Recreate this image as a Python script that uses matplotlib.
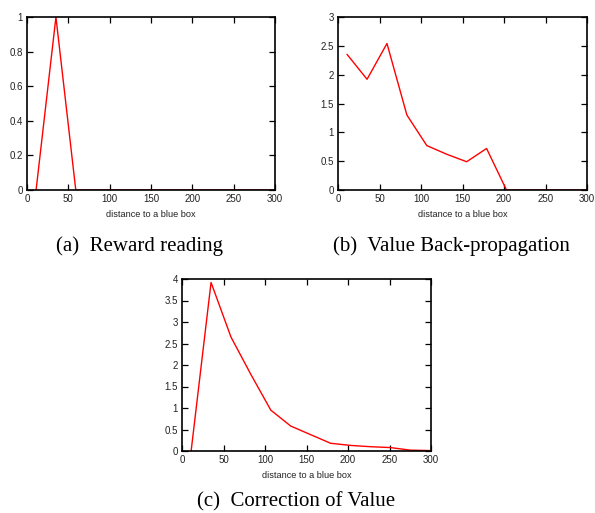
import matplotlib

matplotlib.use("Agg")
import matplotlib.pyplot as plt

# distance samples (shared by the three panels)
distance = [11, 35, 59, 83, 107, 131, 155, 179, 203, 227, 251, 275, 299]

reward = [0, 1.0, 0, 0, 0, 0, 0, 0, 0, 0, 0, 0, 0]
value_bp = [2.35, 1.92, 2.54, 1.30, 0.77, 0.62, 0.49, 0.72, 0, 0, 0, 0, 0]
value_corr = [0, 3.92, 2.65, 1.78, 0.95, 0.58, 0.38, 0.18, 0.13, 0.10, 0.08, 0.02, 0.01]

captions = ["(a)  Reward reading", "(b)  Value Back-propagation", "(c)  Correction of Value"]
y_limits = [1, 3, 4]
y_steps = [0.2, 0.5, 0.5]

W, H = 595, 513
fig = plt.figure(figsize=(W / 100, H / 100), dpi=100)

# axes boxes in pixels: left, top, right, bottom
boxes = [(27, 17, 275, 190), (338, 17, 587, 190), (182, 279, 431, 451)]
series = [reward, value_bp, value_corr]
# caption centre x and baseline y, pixels
cap_pos = [(139, 251), (451, 251), (296, 506)]

for (l, t, r, b), ys, ymax, step in zip(boxes, series, y_limits, y_steps):
    ax = fig.add_axes([l / W, 1 - b / H, (r - l) / W, (b - t) / H])
    ax.plot(distance, ys, color="red", lw=1.0)
    ax.set_xlim(0, 300)
    ax.set_ylim(0, ymax)
    ax.set_xticks(range(0, 301, 50))
    n = int(round(ymax / step))
    yt = [round(i * step, 2) for i in range(n + 1)]
    ax.set_yticks(yt)
    ax.set_yticklabels([f"{v:g}" for v in yt])
    ax.tick_params(direction="in", length=4, width=0.9, labelsize=7,
                   labelcolor="#222222", top=True, right=True, pad=3)
    for lab in ax.get_xticklabels() + ax.get_yticklabels():
        lab.set_fontfamily("Liberation Sans")
    ax.set_xlabel("distance to a blue box", fontsize=6.6, color="#222222",
                  fontfamily="Liberation Sans", labelpad=4)
    for sp in ax.spines.values():
        sp.set_linewidth(1.2)

for text, (cx, cy) in zip(captions, cap_pos):
    fig.text(cx / W, 1 - cy / H, text, ha="center", va="baseline",
             fontsize=15, fontfamily="Liberation Serif")

fig.savefig("out.png", dpi=100)
